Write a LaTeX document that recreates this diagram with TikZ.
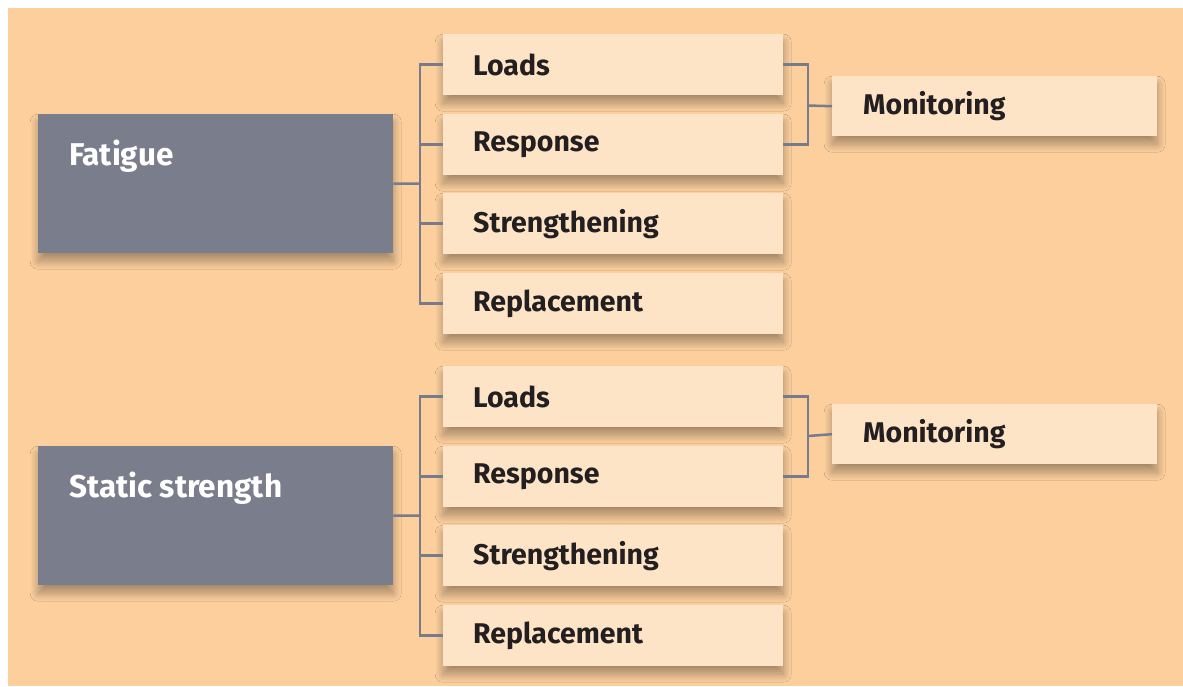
\documentclass[tikz,border=0pt]{standalone}
\usepackage{fontspec}
\setmainfont{Fira Sans}
\usetikzlibrary{shadows.blur,calc}
\definecolor{bg}{RGB}{252,207,157}
\definecolor{childfill}{RGB}{253,228,198}
\definecolor{mainfill}{RGB}{122,125,139}
\definecolor{linec}{RGB}{120,123,140}
\definecolor{txt}{RGB}{35,31,32}
\tikzset{
  shad/.style={blur shadow={shadow xshift=0pt, shadow yshift=-8pt, shadow blur radius=8pt, shadow blur steps=24, shadow opacity=34}},
  child/.style={shad, rectangle, fill=childfill, anchor=north west, minimum width=340pt, minimum height=61pt,
    text width=280pt, inner xsep=30pt, inner ysep=0pt, align=left, text=txt, font=\fontsize{28.5}{32}\selectfont\bfseries},
  monbox/.style={child, minimum width=325pt, minimum height=60pt, text width=263pt, inner xsep=31pt},
  mainbox/.style={shad, rectangle, fill=mainfill, anchor=north west, minimum width=355pt, minimum height=139pt, inner sep=0pt},
  maintext/.style={anchor=base west, text=white, inner sep=0pt, font=\fontsize{31.5}{36}\selectfont\bfseries},
  conn/.style={draw=linec, line width=2.5pt},
}
\begin{document}
\begin{tikzpicture}[x=1pt,y=-1pt]
\useasboundingbox (0,0) rectangle (1183,686);
\fill[bg] (8,8) rectangle (1183,686);
% group 1
\node[mainbox] (f) at (38,114) {};
\node[maintext] (ft) at (69,165) {Fatigue};
\node[child] (l1) at (443,34) {Loads};
\node[child] (r1) at (443,114) {Response};
\node[child] (s1) at (443,193) {Strengthening};
\node[child] (p1) at (443,273) {Replacement};
\node[monbox] (m1) at (832,76) {Monitoring};
% group 2
\node[mainbox] (g) at (38,446) {};
\node[maintext] (gt) at (69,497) {Static strength};
\node[child] (l2) at (443,366) {Loads};
\node[child] (r2) at (443,446) {Response};
\node[child] (s2) at (443,525) {Strengthening};
\node[child] (p2) at (443,605) {Replacement};
\node[monbox] (m2) at (832,404) {Monitoring};
% connectors group 1
\coordinate (t1) at (420,183.5);
\draw[conn] (f.east) -- (t1);
\draw[conn] (l1.west) -| (t1);
\draw[conn] (r1.west) -| (t1);
\draw[conn] (s1.west) -| (t1);
\draw[conn] (p1.west) -| (t1);
\coordinate (b1) at (808,105.5);
\draw[conn] (l1.east) -| (b1);
\draw[conn] (r1.east) -| (b1);
\draw[conn] (b1) -- (m1.west);
% connectors group 2
\coordinate (t2) at (420,515.5);
\draw[conn] (g.east) -- (t2);
\draw[conn] (l2.west) -| (t2);
\draw[conn] (r2.west) -| (t2);
\draw[conn] (s2.west) -| (t2);
\draw[conn] (p2.west) -| (t2);
\coordinate (b2) at (808,436);
\draw[conn] (l2.east) -| (b2);
\draw[conn] (r2.east) -| (b2);
\draw[conn] (b2) -- (m2.west);
\end{tikzpicture}
\end{document}
